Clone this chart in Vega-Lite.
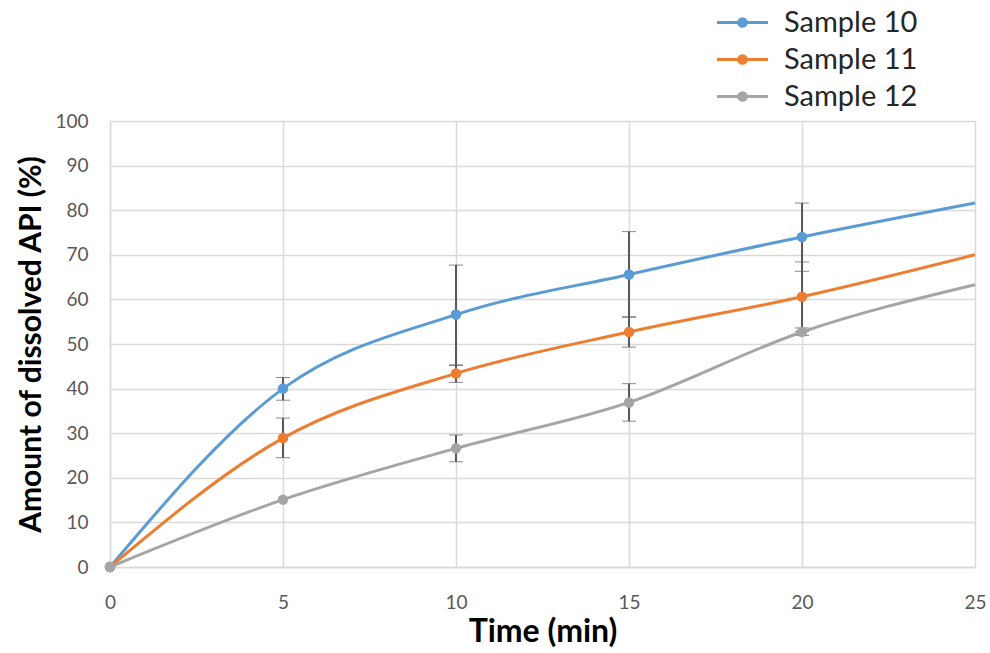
{
  "$schema": "https://vega.github.io/schema/vega-lite/v6.json",
  "autosize": "none",
  "width": 865,
  "height": 446,
  "padding": {"left": 110, "top": 121, "right": 15, "bottom": 86},
  "background": "white",
  "config": {
    "font": "Lato",
    "view": {"stroke": null},
    "axis": {
      "gridColor": "#d9d9d9",
      "gridWidth": 1.5,
      "domainColor": "#d9d9d9",
      "domainWidth": 1.5,
      "ticks": false,
      "labelColor": "#595959",
      "labelFontSize": 19,
      "labelFont": "Lato",
      "titleFont": "Lato",
      "titleFontWeight": "bold",
      "titleColor": "#000000"
    }
  },
  "data": {
    "values": [
      {"t": 0, "s": "Sample 10", "v": 0, "lo": null, "hi": null},
      {"t": 5, "s": "Sample 10", "v": 40, "lo": 37.4, "hi": 42.5},
      {"t": 10, "s": "Sample 10", "v": 56.6, "lo": 45.3, "hi": 67.7},
      {"t": 15, "s": "Sample 10", "v": 65.6, "lo": 56.0, "hi": 75.2},
      {"t": 20, "s": "Sample 10", "v": 74, "lo": 66.3, "hi": 81.6},
      {"t": 25, "s": "Sample 10", "v": 81.6, "lo": null, "hi": null},
      {"t": 0, "s": "Sample 11", "v": 0, "lo": null, "hi": null},
      {"t": 5, "s": "Sample 11", "v": 28.9, "lo": 24.5, "hi": 33.4},
      {"t": 10, "s": "Sample 11", "v": 43.4, "lo": 41.4, "hi": 45.2},
      {"t": 15, "s": "Sample 11", "v": 52.7, "lo": 49.3, "hi": 56.1},
      {"t": 20, "s": "Sample 11", "v": 60.6, "lo": 52.8, "hi": 68.4},
      {"t": 25, "s": "Sample 11", "v": 70, "lo": null, "hi": null},
      {"t": 0, "s": "Sample 12", "v": 0, "lo": null, "hi": null},
      {"t": 5, "s": "Sample 12", "v": 15.1, "lo": null, "hi": null},
      {"t": 10, "s": "Sample 12", "v": 26.6, "lo": 23.6, "hi": 29.6},
      {"t": 15, "s": "Sample 12", "v": 36.9, "lo": 32.7, "hi": 41.1},
      {"t": 20, "s": "Sample 12", "v": 52.7, "lo": 51.9, "hi": 53.6},
      {"t": 25, "s": "Sample 12", "v": 63.3, "lo": null, "hi": null}
    ]
  },
  "encoding": {
    "x": {
      "field": "t", "type": "quantitative",
      "scale": {"domain": [0, 25], "nice": false},
      "axis": {"values": [0, 5, 10, 15, 20, 25], "title": "Time (min)", "labelPadding": 26, "titlePadding": 4, "labelFlush": false, "titleFontSize": 32}
    },
    "y": {
      "field": "v", "type": "quantitative",
      "scale": {"domain": [0, 100], "nice": false},
      "axis": {"values": [0, 10, 20, 30, 40, 50, 60, 70, 80, 90, 100], "title": "Amount of dissolved API (%)", "labelPadding": 22, "titlePadding": 8, "titleFontSize": 30}
    }
  },
  "layer": [
    {
      "transform": [{"filter": "datum.lo != null"}],
      "mark": {"type": "errorbar", "ticks": {"size": 14, "color": "#595959", "strokeWidth": 2}, "rule": {"color": "#595959", "strokeWidth": 2}},
      "encoding": {
        "y": {"field": "lo", "type": "quantitative"},
        "y2": {"field": "hi"}
      }
    },
    {
      "mark": {"type": "line", "interpolate": "monotone", "strokeWidth": 3},
      "encoding": {
        "color": {
          "field": "s", "type": "nominal",
          "scale": {"domain": ["Sample 10", "Sample 11", "Sample 12"], "range": ["#5b9bd5", "#ed7d31", "#a5a5a5"]},
          "legend": {
            "title": null,
            "orient": "none",
            "legendX": 605,
            "legendY": -113,
            "labelFontSize": 29,
            "labelColor": "#262626",
            "labelFont": "Lato",
            "symbolType": "M-2,0H2M-0.3,0A0.3,0.3,0,1,0,0.3,0A0.3,0.3,0,1,0,-0.3,0Z",
            "symbolSize": 650,
            "symbolStrokeWidth": 3,
            "symbolOffset": 13,
            "labelOffset": 27,
            "rowPadding": 7
          }
        }
      }
    },
    {
      "transform": [{"filter": "datum.t <= 20"}],
      "mark": {"type": "point", "filled": true, "size": 110, "opacity": 1},
      "encoding": {
        "color": {"field": "s", "type": "nominal", "legend": null}
      }
    }
  ]
}
